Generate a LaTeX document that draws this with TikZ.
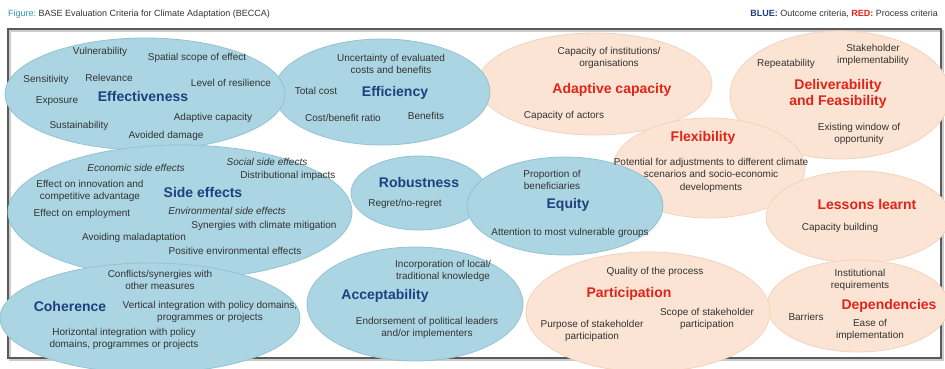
\documentclass[tikz,border=0pt]{standalone}
\usepackage{fontspec}
\setmainfont{Liberation Sans}
\definecolor{bluefill}{HTML}{ABD5E2}
\definecolor{blueline}{HTML}{93C3D3}
\definecolor{orfill}{HTML}{FBE4D3}
\definecolor{orline}{HTML}{F3D3BC}
\definecolor{navy}{HTML}{1F3F7F}
\definecolor{redt}{HTML}{E2231A}
\definecolor{subt}{HTML}{333333}
\definecolor{teal}{HTML}{2E9AB0}
\definecolor{framec}{HTML}{5A5A5A}
\tikzset{
  blueell/.style={fill=bluefill, draw=blueline, line width=0.8pt},
  orell/.style={fill=orfill, draw=orline, line width=0.8pt},
  sub/.style={text=subt, font=\fontsize{10}{12.5}\selectfont, align=center, inner sep=0pt},
  subit/.style={sub, font=\fontsize{10}{12.5}\selectfont\itshape},
  btitle/.style={text=navy, font=\fontsize{14}{16}\selectfont\bfseries, align=center, inner sep=0pt},
  rtitle/.style={text=redt, font=\fontsize{14}{16}\selectfont\bfseries, align=center, inner sep=0pt},
  hdr/.style={font=\fontsize{9}{11}\selectfont, inner sep=0pt},
}
\begin{document}
\begin{tikzpicture}[x=1pt,y=-1pt]
\useasboundingbox (0,0) rectangle (945,368);
\clip (0,0) rectangle (945,368);
\fill[white] (0,0) rectangle (945,368);
% header
\node[hdr, anchor=west] (hdrl) at (8,14) {\textcolor{teal}{Figure:}\ \textcolor{subt}{BASE Evaluation Criteria for Climate Adaptation (BECCA)}};
\node[hdr, anchor=east] (hdrr) at (938,14) {\textcolor{navy}{\bfseries BLUE:} \textcolor{subt}{Outcome criteria,} \textcolor{redt}{\bfseries RED:} \textcolor{subt}{Process criteria}};
% frame
\draw[gray!40, line width=1.5pt] (10,31) rectangle (943,360);
\draw[framec, line width=1.3pt] (8,29) rectangle (941,358);
% ellipses
\path[orell] (595,84) ellipse [x radius=117pt, y radius=51pt];
\path[orell] (840,95) ellipse [x radius=110pt, y radius=64pt];
\path[orell] (709,168) ellipse [x radius=96pt, y radius=50pt];
\path[orell] (858,217) ellipse [x radius=92pt, y radius=46pt];
\path[orell] (858,306) ellipse [x radius=91pt, y radius=46pt];
\path[orell] (648,312) ellipse [x radius=122pt, y radius=60pt];
\path[blueell] (382,92) ellipse [x radius=108pt, y radius=53pt];
\path[blueell] (145,94) ellipse [x radius=140pt, y radius=56pt];
\path[blueell] (419,193) ellipse [x radius=68pt, y radius=37pt];
\path[blueell] (180,212) ellipse [x radius=172pt, y radius=67pt];
\path[blueell] (565,206) ellipse [x radius=98pt, y radius=49pt];
\path[blueell] (150,318) ellipse [x radius=150pt, y radius=55pt];
\path[blueell] (415,304) ellipse [x radius=108pt, y radius=57pt];
% Effectiveness
\node[sub] (vul) at (100,52) {Vulnerability};
\node[sub] (spa) at (197,58) {Spatial scope of effect};
\node[sub] (sen) at (46,80) {Sensitivity};
\node[sub] (rel) at (109,78) {Relevance};
\node[sub] (lev) at (231,83) {Level of resilience};
\node[sub] (exp) at (57,101) {Exposure};
\node[btitle] (effe) at (143,96) {Effectiveness};
\node[sub] (adc) at (213,118) {Adaptive capacity};
\node[sub] (sus) at (79,126) {Sustainability};
\node[sub] (avd) at (166,136) {Avoided damage};
% Efficiency
\node[sub] (unc) at (391,64) {Uncertainty of evaluated\\costs and benefits};
\node[sub] (tot) at (316,91) {Total cost};
\node[btitle] (effi) at (395,93) {Efficiency};
\node[sub] (cbr) at (343,118) {Cost/benefit ratio};
\node[sub] (ben) at (426,116) {Benefits};
% Adaptive capacity
\node[sub] (cin) at (609,58) {Capacity of institutions/\\organisations};
\node[rtitle] (adap) at (612,90) {Adaptive capacity};
\node[sub] (cac) at (564,116) {Capacity of actors};
% Deliverability
\node[sub] (sti) at (873,55) {Stakeholder\\implementability};
\node[sub] (rep) at (786,64) {Repeatability};
\node[rtitle] (deli) at (838,94) {Deliverability\\and Feasibility};
\node[sub] (ewo) at (859,134) {Existing window of\\opportunity};
% Flexibility
\node[rtitle] (flex) at (703,138) {Flexibility};
\node[sub] (pot) at (711,175) {Potential for adjustments to different climate\\scenarios and socio-economic\\developments};
% Lessons learnt
\node[rtitle] (less) at (867,204) {Lessons learnt};
\node[sub] (cbu) at (840,228) {Capacity building};
% Side effects
\node[subit] (eco) at (136,168) {Economic side effects};
\node[subit] (soc) at (267,162) {Social side effects};
\node[sub] (dis) at (288,176) {Distributional impacts};
\node[sub] (inn) at (90,191) {Effect on innovation and\\competitive advantage};
\node[btitle] (side) at (203,192) {Side effects};
\node[sub] (emp) at (82,214) {Effect on employment};
\node[subit] (env) at (227,211) {Environmental side effects};
\node[sub] (syn) at (264,226) {Synergies with climate mitigation};
\node[sub] (mal) at (134,238) {Avoiding maladaptation};
\node[sub] (pos) at (235,251) {Positive environmental effects};
% Robustness
\node[btitle] (rob) at (419,182) {Robustness};
\node[sub] (reg) at (405,204) {Regret/no-regret};
% Equity
\node[sub] (pro) at (552,180) {Proportion of\\beneficiaries};
\node[btitle] (equ) at (568,205) {Equity};
\node[sub] (att) at (570,233) {Attention to most vulnerable groups};
% Coherence
\node[sub] (con) at (160,280) {Conflicts/synergies with\\other measures};
\node[btitle] (coh) at (70,306) {Coherence};
\node[sub] (ver) at (210,312) {Vertical integration with policy domains,\\programmes or projects};
\node[sub] (hor) at (124,339) {Horizontal integration with policy\\domains, programmes or projects};
% Acceptability
\node[sub] (inc) at (443,271) {Incorporation of local/\\traditional knowledge};
\node[btitle] (acc) at (385,296) {Acceptability};
\node[sub] (end) at (427,328) {Endorsement of political leaders\\and/or implementers};
% Participation
\node[sub] (qua) at (655,272) {Quality of the process};
\node[rtitle] (par) at (629,294) {Participation};
\node[sub] (sco) at (707,319) {Scope of stakeholder\\participation};
\node[sub] (pur) at (592,331) {Purpose of stakeholder\\participation};
% Dependencies
\node[sub] (ins) at (860,280) {Institutional\\requirements};
\node[rtitle] (dep) at (889,306) {Dependencies};
\node[sub] (bar) at (806,317) {Barriers};
\node[sub] (eas) at (870,330) {Ease of\\implementation};
\end{tikzpicture}
\end{document}
